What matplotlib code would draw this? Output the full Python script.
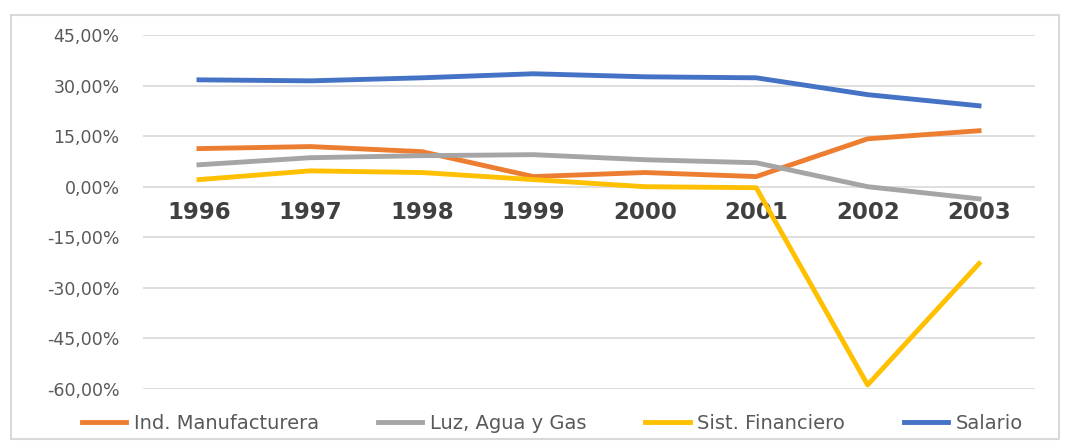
import matplotlib.pyplot as plt
from matplotlib.patches import Rectangle
from matplotlib.ticker import FuncFormatter

years = ['1996', '1997', '1998', '1999', '2000', '2001', '2002', '2003']
manufactura = [11.3, 11.9, 10.4, 3.0, 4.2, 3.0, 14.2, 16.6]
luz_agua_gas = [6.5, 8.6, 9.2, 9.5, 8.0, 7.1, 0.0, -3.6]
financiero = [2.1, 4.7, 4.2, 2.1, 0.0, -0.3, -58.8, -22.8]
salario = [31.7, 31.4, 32.3, 33.5, 32.6, 32.3, 27.3, 24.0]

fig = plt.figure(figsize=(10.69, 4.43), dpi=100)
ax = fig.add_axes([0.134, 0.122, 0.834, 0.799])

# outer chart border
fig.patches.append(Rectangle((0.01, 0.01), 0.981, 0.957, transform=fig.transFigure,
                             fill=False, edgecolor='#d9d9d9', linewidth=1.5))

x = range(len(years))
ax.plot(x, manufactura, color='#ed7d31', lw=3.5, label='Ind. Manufacturera')
ax.plot(x, luz_agua_gas, color='#a5a5a5', lw=3.5, label='Luz, Agua y Gas')
ax.plot(x, financiero, color='#ffc000', lw=3.5, label='Sist. Financiero')
ax.plot(x, salario, color='#4472c4', lw=3.5, label='Salario')

ax.set_xlim(-0.5, len(years) - 0.5)
ax.set_ylim(-60, 45)
ax.set_yticks(range(-60, 46, 15))
ax.yaxis.set_major_formatter(FuncFormatter(lambda v, p: f'{v:.2f}%'.replace('.', ',')))
ax.grid(axis='y', color='#d9d9d9', lw=1.2)
ax.set_axisbelow(True)

# x labels sit on the zero line
ax.spines['bottom'].set_position(('data', 0))
for s in ax.spines.values():
    s.set_visible(False)
ax.set_xticks(list(x))
ax.set_xticklabels(years, fontsize=16.5, fontweight='bold', color='#404040')
ax.tick_params(axis='x', length=0, pad=10)
ax.tick_params(axis='y', length=0, pad=17, labelsize=12.5, labelcolor='#595959')

ax.legend(loc='upper center', bbox_to_anchor=(0.459, -0.022), ncol=4, frameon=False,
          fontsize=14, labelcolor='#595959', handlelength=2.3, handletextpad=0.4,
          columnspacing=3.0)

fig.savefig('out.png', dpi=100)
